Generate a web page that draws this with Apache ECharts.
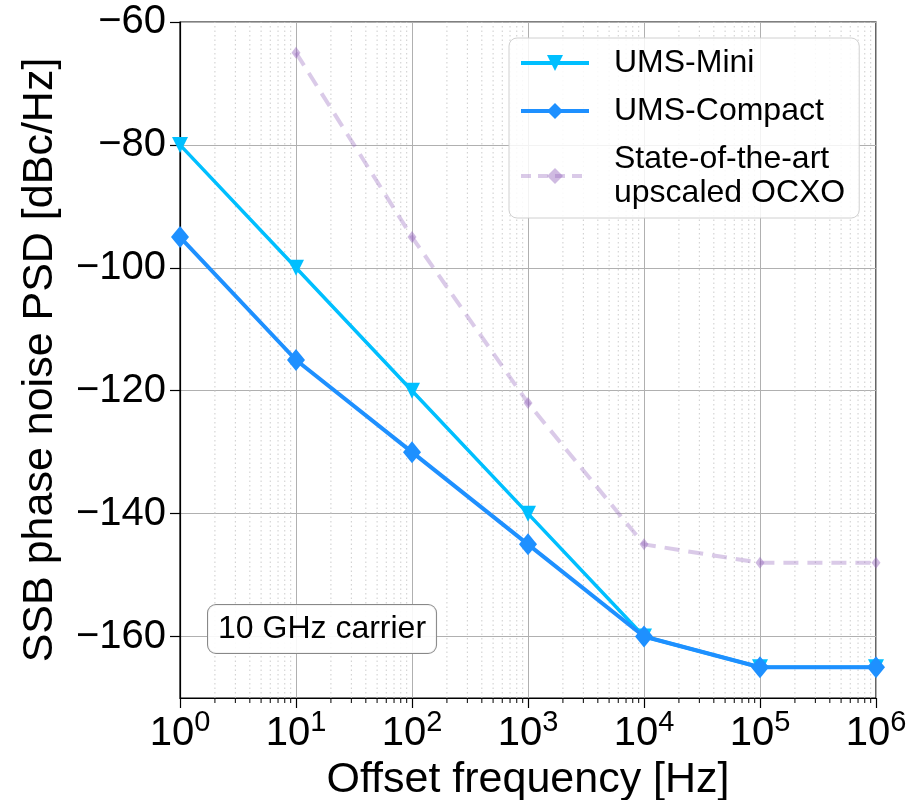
<!DOCTYPE html>
<html>
<head>
<meta charset="utf-8">
<script src="https://cdn.jsdelivr.net/npm/echarts@6/dist/echarts.min.js"></script>
<style>
  html, body { margin: 0; padding: 0; background: #fff; }
  #main { width: 915px; height: 800px; }
</style>
</head>
<body>
<div id="main"></div>
<script>
// offset frequencies [Hz]
let freqs = [1, 10, 100, 1000, 10000, 100000, 1000000];
// SSB phase noise values [dBc/Hz]
let umsMini = [-80, -100, -120, -140, -160, -165, -165];
let umsCompact = [-95, -115, -130, -145, -160, -165, -165];
let ocxoFreqs = [10, 100, 1000, 10000, 100000, 1000000];
let ocxo = [-65, -95, -122, -145, -148, -148];
let yTicks = [-160, -140, -120, -100, -80, -60];

const FONT = '"Liberation Sans", Arial, Helvetica, sans-serif';

function pairs(xs, ys) {
    return xs.map((x, i) => [x, ys[i]]);
}

// minor decades 2..9 x 10^k for the log axis
let minorVals = [];
for (let k = 0; k < 6; k++) {
    for (let m = 2; m <= 9; m++) minorVals.push([m * Math.pow(10, k), -170]);
}

let myChart = echarts.init(document.getElementById('main'));

let option = {
    backgroundColor: '#fff',
    animation: false,
    grid: {
        left: 180, right: 39, top: 22, bottom: 102,
        outerBoundsMode: 'none',
        containLabel: false,
        show: true, borderColor: '#000', borderWidth: 1.2
    },
    xAxis: {
        type: 'log',
        logBase: 10,
        min: 1,
        max: 1000000,
        name: 'Offset frequency [Hz]',
        nameLocation: 'middle',
        nameGap: 58,
        nameTextStyle: { fontSize: 43, fontFamily: FONT, color: '#000' },
        axisLine: { lineStyle: { color: '#000', width: 1.2 } },
        axisTick: { length: 10, lineStyle: { color: '#000', width: 1.2 } },
        axisLabel: {
            margin: 10,
            color: '#000',
            formatter: function (v) {
                let e = Math.round(Math.log10(v));
                return '{b|10}{s|' + e + '}';
            },
            rich: {
                b: { fontSize: 40, fontFamily: FONT, color: '#000' },
                s: { fontSize: 29, fontFamily: FONT, color: '#000', padding: [0, 0, 22, 0] }
            }
        },
        splitLine: { show: true, lineStyle: { color: '#b0b0b0', width: 1 } }
    },
    yAxis: {
        type: 'value',
        min: -170,
        max: -60,
        name: 'SSB phase noise PSD [dBc/Hz]',
        nameLocation: 'middle',
        nameGap: 118,
        nameTextStyle: { fontSize: 43, fontFamily: FONT, color: '#000' },
        axisLine: { show: true, lineStyle: { color: '#000', width: 1.2 } },
        axisTick: { show: true, length: 10, customValues: yTicks, lineStyle: { color: '#000', width: 1.2 } },
        axisLabel: {
            customValues: yTicks,
            margin: 14,
            fontSize: 40,
            fontFamily: FONT,
            color: '#000',
            formatter: v => String(v).replace('-', '\u2212')
        },
        splitLine: { show: true, lineStyle: { color: '#b0b0b0', width: 1 } }
    },
    legend: {
        orient: 'vertical',
        left: 509,
        top: 38,
        padding: [8, 14, 8, 10],
        itemGap: 14,
        itemWidth: 68,
        itemHeight: 20,
        borderColor: '#d0d0d0',
        borderWidth: 1,
        borderRadius: 8,
        backgroundColor: 'rgba(255,255,255,0.85)',
        textStyle: { fontSize: 32, fontFamily: FONT, color: '#000', lineHeight: 34, padding: [0, 0, 0, 20] },
        data: [
            { name: 'UMS-Mini', lineStyle: { width: 4 } },
            { name: 'UMS-Compact', lineStyle: { width: 4 } },
            { name: 'State-of-the-art\nupscaled OCXO', lineStyle: { width: 4, type: [10, 7] } }
        ]
    },
    graphic: [
        {
            type: 'text',
            left: 207,
            top: 604,
            z: 100,
            style: {
                text: '10 GHz carrier',
                font: '32px ' + FONT,
                fill: '#000',
                backgroundColor: 'rgba(255,255,255,0.9)',
                borderColor: '#888',
                borderWidth: 1,
                borderRadius: 8,
                padding: [8, 10, 8, 10]
            }
        }
    ],
    series: [
        {
            // minor log ticks and dotted minor grid lines
            type: 'custom',
            silent: true,
            clip: false,
            z: 0,
            data: minorVals,
            encode: { x: 0, y: 1 },
            renderItem: function (params, api) {
                let bottom = api.coord([api.value(0), -170]);
                let top = api.coord([api.value(0), -60]);
                return {
                    type: 'group',
                    children: [
                        {
                            type: 'line',
                            shape: { x1: bottom[0], y1: bottom[1], x2: top[0], y2: top[1] },
                            style: { stroke: '#cccccc', lineWidth: 1, lineDash: [1.5, 3] }
                        },
                        {
                            type: 'line',
                            shape: { x1: bottom[0], y1: bottom[1], x2: bottom[0], y2: bottom[1] + 5 },
                            style: { stroke: '#000', lineWidth: 1 }
                        }
                    ]
                };
            }
        },
        {
            name: 'UMS-Mini',
            type: 'line',
            data: pairs(freqs, umsMini),
            symbol: 'triangle',
            symbolRotate: 180,
            symbolSize: 16,
            z: 3,
            itemStyle: { color: '#00BFFF' },
            lineStyle: { color: '#00BFFF', width: 3.5 }
        },
        {
            name: 'UMS-Compact',
            type: 'line',
            data: pairs(freqs, umsCompact),
            symbol: 'diamond',
            symbolSize: [18, 22],
            z: 4,
            itemStyle: { color: '#1E90FF' },
            lineStyle: { color: '#1E90FF', width: 4 }
        },
        {
            name: 'State-of-the-art\nupscaled OCXO',
            type: 'line',
            data: pairs(ocxoFreqs, ocxo),
            symbol: 'diamond',
            symbolSize: [9, 12],
            z: 2,
            itemStyle: { color: 'rgba(148,103,189,0.45)' },
            lineStyle: { color: 'rgba(148,103,189,0.35)', width: 4, type: [15, 9] }
        }
    ]
};

myChart.setOption(option);
</script>
</body>
</html>
